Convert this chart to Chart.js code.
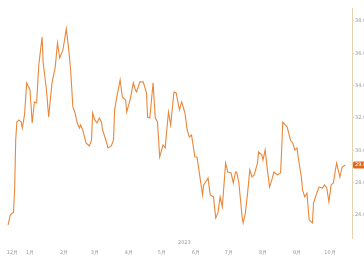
<!DOCTYPE html>
<html>
<head>
<meta charset="utf-8">
<script src="https://cdn.jsdelivr.net/npm/chart.js@4/dist/chart.umd.min.js"></script>
<style>
  body { margin: 0; background: #fff; }
  #box { width: 364px; height: 257px; }
</style>
</head>
<body>
<div id="box"><canvas id="myChart" width="364" height="257"></canvas></div>
<script>
// day number (0 = 1 Jan) of each traced point
const days = [-20, -18, -15, -14, -13, -12, -10, -8, -7, -5, -3, 0, 2, 4, 6, 8, 11, 12, 15, 17,
  20, 23, 25, 27, 30, 33, 35, 37, 39, 41, 43, 45, 46, 48, 51, 54, 56, 57, 59, 61,
  63, 65, 66, 69, 71, 74, 76, 77, 79, 82, 84, 87, 88, 91, 94, 96, 97, 100, 103, 106,
  107, 109, 112, 114, 116, 118, 121, 123, 126, 128, 131, 133, 136, 138, 141, 143, 145, 147, 150, 152,
  155, 157, 158, 161, 162, 164, 167, 169, 171, 173, 175, 178, 180, 183, 185, 187, 188, 190, 193, 194,
  196, 198, 200, 202, 204, 207, 208, 211, 212, 214, 216, 218, 220, 222, 225, 228, 229, 230, 234, 237,
  239, 241, 243, 244, 247, 248, 250, 252, 254, 257, 258, 261, 263, 266, 268, 270, 272, 274, 276, 279,
  282, 284, 287]

// price
const prices = [25.38, 26.00, 26.19, 27.55, 30.64, 31.75, 31.88, 31.75, 31.38, 32.19, 34.17, 33.73, 31.69, 32.99, 32.93, 35.28, 37.01, 35.40, 33.73, 32.06,
  34.17, 35.16, 36.64, 35.71, 36.21, 37.51, 36.39, 34.97, 32.68, 32.31, 31.69, 31.38, 31.57, 31.26, 30.46, 30.27, 30.64, 32.31, 31.88, 31.69,
  32.00, 31.75, 31.26, 30.64, 30.15, 30.27, 30.64, 32.50, 33.30, 34.35, 33.30, 33.11, 32.37, 33.11, 34.17, 33.73, 33.61, 34.23, 34.23, 33.55,
  32.06, 32.00, 34.17, 32.00, 31.75, 29.59, 30.33, 30.15, 32.37, 31.57, 33.61, 33.55, 32.50, 32.99, 32.31, 31.26, 30.83, 30.95, 29.59, 29.59,
  28.17, 27.24, 27.86, 28.17, 28.29, 27.24, 27.12, 25.82, 26.13, 27.12, 26.50, 29.22, 28.66, 28.60, 27.98, 28.66, 28.66, 28.04, 25.88, 25.51,
  26.13, 27.36, 28.79, 28.35, 28.48, 29.22, 29.90, 29.71, 29.40, 30.02, 28.79, 27.73, 28.17, 28.66, 28.48, 28.60, 30.02, 31.75, 31.44, 30.64,
  30.46, 30.02, 30.15, 29.59, 28.29, 27.55, 27.12, 27.36, 25.69, 25.51, 26.74, 27.36, 27.73, 27.67, 27.86, 27.67, 26.81, 27.86, 27.98, 29.22,
  28.35, 28.97, 29.09]

const xTickDays = [-16, 0, 31, 59, 90, 120, 151, 181, 212, 243, 273]
const xTickLabels = ['12月', '1月', '2月', '3月', '4月', '5月', '6月', '7月', '8月', '9月', '10月']
const yTicks = [26, 28, 30, 32, 34, 36, 38]
const yearLabel = '2023'

const LINE = '#e9873a'
const BADGE = '#e0661a'
const AXIS = '#e3d3b0'
const TEXT = '#999'

// little orange box with the last price on the right axis, plus the year text
const lastPricePlugin = {
  id: 'lastPrice',
  afterDraw(chart) {
    const ctx = chart.ctx
    const y = chart.scales.y
    const last = prices[prices.length - 1]
    const py = y.getPixelForValue(last)
    ctx.save()
    ctx.fillStyle = BADGE
    ctx.beginPath()
    ctx.roundRect(y.left + 1, py - 3.5, 13, 7, 1.5)
    ctx.fill()
    ctx.fillStyle = '#fff'
    ctx.font = '5px "DejaVu Sans"'
    ctx.textBaseline = 'middle'
    ctx.fillText(last.toFixed(2), y.left + 3, py)
    ctx.fillStyle = TEXT
    ctx.fillText(yearLabel, 178, 243)
    ctx.restore()
  }
}

const ctx = document.getElementById('myChart').getContext('2d')
const chart = new Chart(ctx, {
  type: 'line',
  data: {
    datasets: [{
      data: days.map((d, i) => ({ x: d, y: prices[i] })),
      borderColor: LINE,
      borderWidth: 1.1,
      pointRadius: 0,
      tension: 0
    }]
  },
  options: {
    responsive: false,
    animation: false,
    devicePixelRatio: 1,
    layout: { padding: { left: 0, right: 0, top: 8, bottom: 0 } },
    plugins: { legend: { display: false }, tooltip: { enabled: false } },
    scales: {
      x: {
        type: 'linear',
        min: -27.3,
        max: 293,
        grid: { display: false },
        border: { display: false },
        afterBuildTicks: s => { s.ticks = xTickDays.map(v => ({ value: v })) },
        afterFit: s => { s.height = 19 },
        ticks: {
          autoSkip: false,
          maxRotation: 0,
          padding: 4,
          color: TEXT,
          font: { size: 5, family: 'DejaVu Sans' },
          callback: (v) => xTickLabels[xTickDays.indexOf(v)]
        }
      },
      y: {
        position: 'right',
        min: 24.58,
        max: 38.80,
        afterBuildTicks: s => { s.ticks = yTicks.map(v => ({ value: v })) },
        afterFit: s => { s.width = 12 },
        grid: { drawOnChartArea: false, drawTicks: true, tickLength: 2, color: AXIS },
        border: { display: true, color: AXIS, width: 1 },
        ticks: {
          padding: 1,
          color: TEXT,
          font: { size: 5, family: 'DejaVu Sans' },
          callback: v => v.toFixed(2)
        }
      }
    }
  },
  plugins: [lastPricePlugin]
})
</script>
</body>
</html>
